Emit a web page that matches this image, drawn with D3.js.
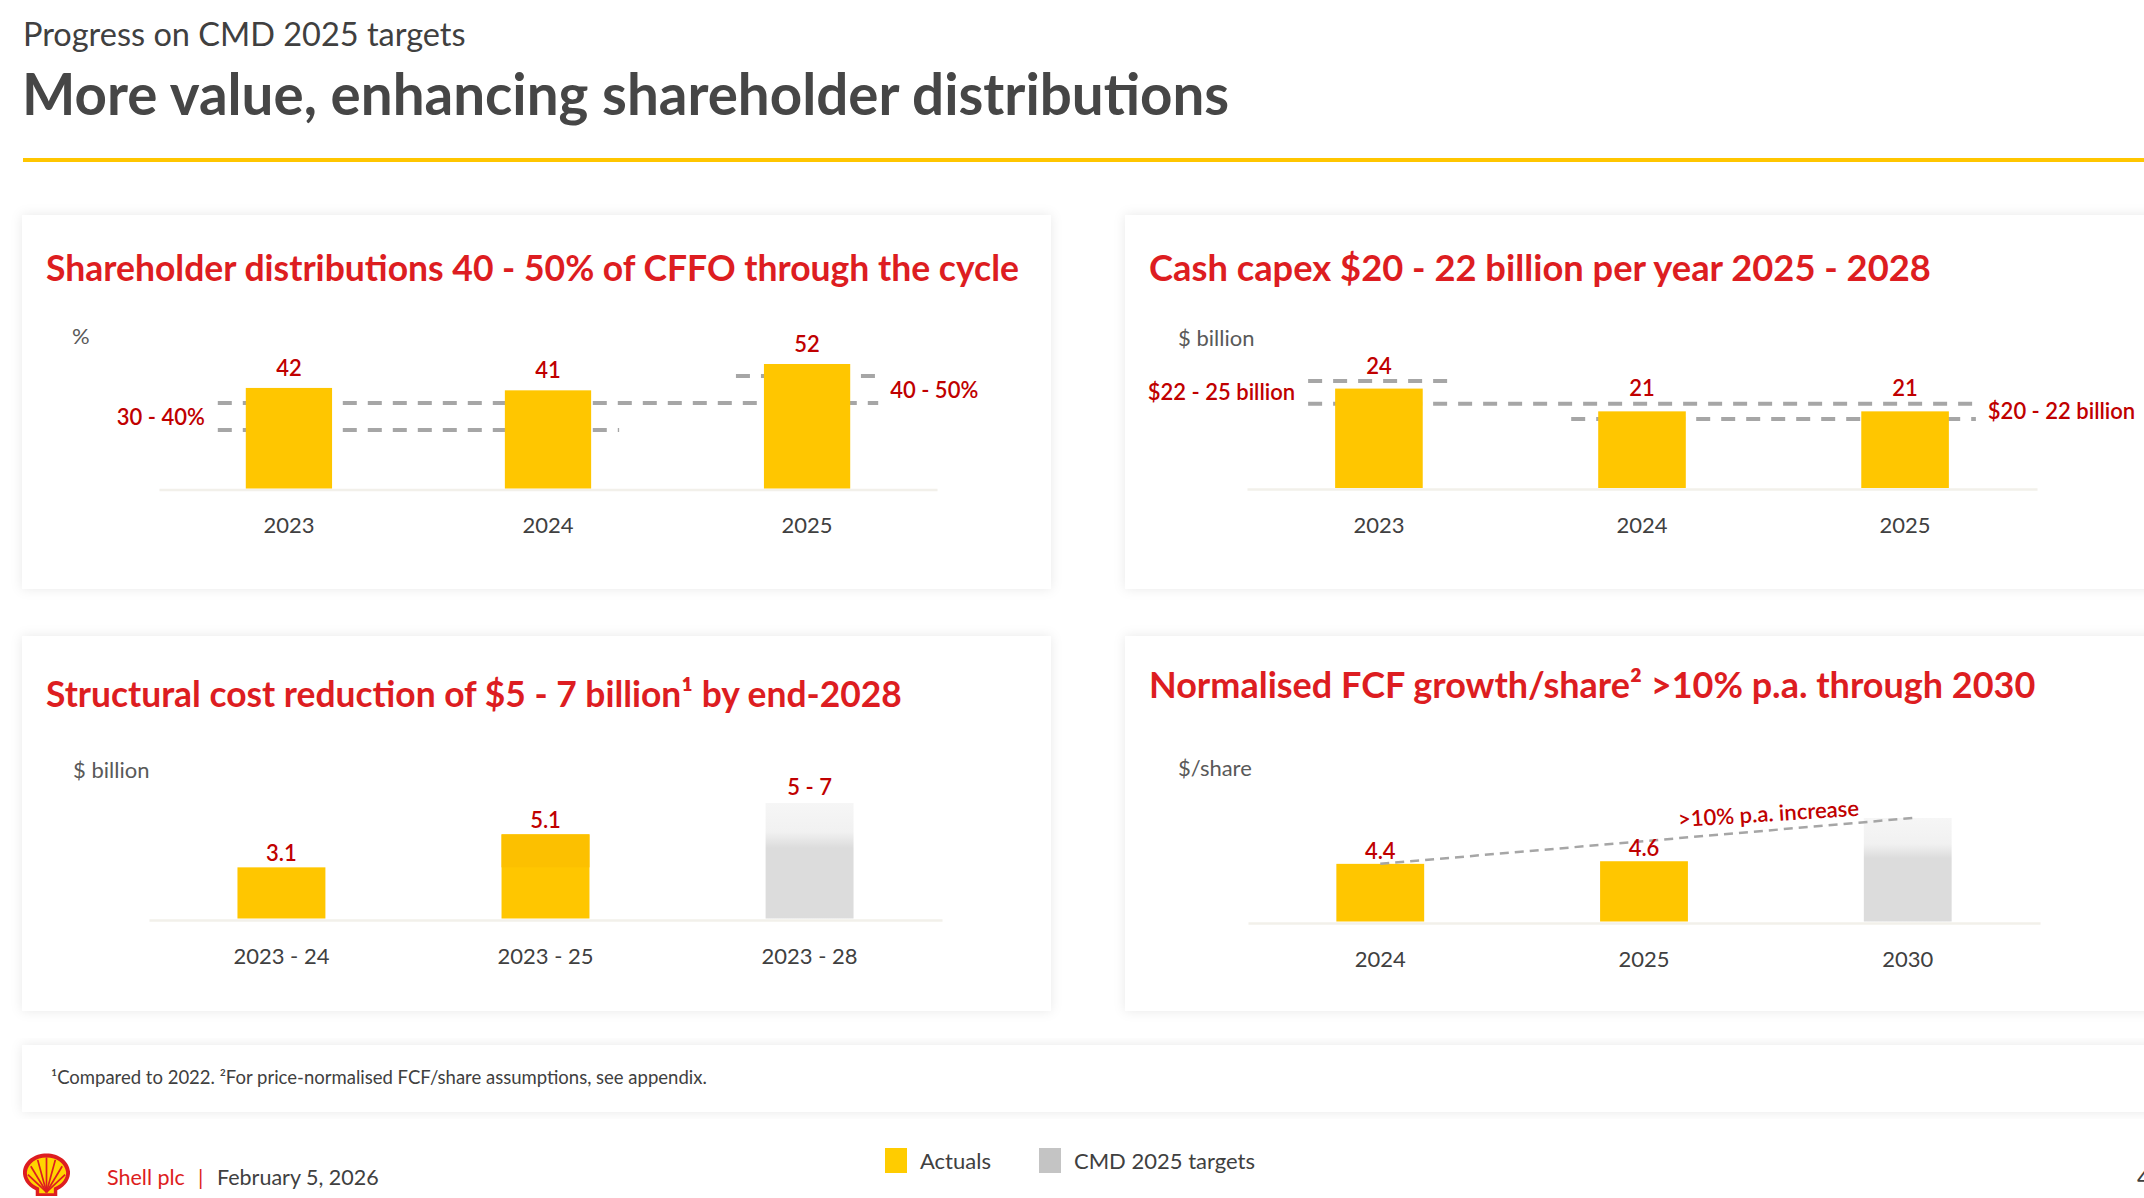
<!DOCTYPE html>
<html lang="en">
<head>
<meta charset="utf-8">
<title>Progress on CMD 2025 targets</title>
<script src="https://d3js.org/d3.v7.min.js"></script>
<style>
  body { margin: 0; background: #fff; }
  svg { display: block; font-family: Lato, "Open Sans", sans-serif; }
</style>
</head>
<body>
<script>
// chart values
var distYears = ["2023", "2024", "2025"];
var distValues = [42, 41, 52];
var distLines = [{v: 30, from: "2023", to: "2024"}, {v: 40, from: "2023", to: "2025"}, {v: 50, from: "2025", to: "2025"}];
var distRanges = [{text: "30 - 40%", lo: 30, hi: 40, at: "2023", side: "left"}, {text: "40 - 50%", lo: 40, hi: 50, at: "2025", side: "right"}];

var capexYears = ["2023", "2024", "2025"];
var capexValues = [24, 21, 21];
var capexLines = [{v: 25, from: "2023", to: "2023"}, {v: 22, from: "2023", to: "2025"}, {v: 20, from: "2024", to: "2025"}];
var capexRanges = [{text: "$22 - 25 billion", lo: 22, hi: 25, at: "2023", side: "left"}, {text: "$20 - 22 billion", lo: 20, hi: 22, at: "2025", side: "right"}];

var costPeriods = ["2023 - 24", "2023 - 25", "2023 - 28"];
var costValues = [3.1, 5.1];
var costTarget = {lo: 5, hi: 7, label: "5 - 7"};

var fcfYears = ["2024", "2025", "2030"];
var fcfValues = [4.4, 4.6];
var fcfTarget = 7.9;
var fcfTrendLabel = ">10% p.a. increase";

var legendLabels = ["Actuals", "CMD 2025 targets"];
var legendColors = ["#FFCC00", "#C4C4C4"];

var W = 2144, H = 1198;
var yellow = "#FFC600", yellowTop = "#FCC000", red = "#DD1D21", darkRed = "#C00000";
var textGrey = "#404040", unitGrey = "#595959", dashGrey = "#A6A6A6", axisGrey = "#F2F0EA";

var svg = d3.select("body").append("svg")
  .attr("width", W)
  .attr("height", H);

var defs = svg.append("defs");
var shadow = defs.append("filter").attr("id", "shadow")
  .attr("x", "-5%").attr("y", "-10%").attr("width", "110%").attr("height", "120%");
shadow.append("feDropShadow")
  .attr("dx", 0).attr("dy", 0).attr("stdDeviation", 6)
  .attr("flood-color", "#000").attr("flood-opacity", 0.09);

var fade = defs.append("linearGradient").attr("id", "targetFade")
  .attr("x1", 0).attr("y1", 0).attr("x2", 0).attr("y2", 1);
[[0, "#F6F6F6"], [0.25, "#F1F1F1"], [0.39, "#DCDCDC"], [1, "#DCDCDC"]].forEach(function (s) {
  fade.append("stop").attr("offset", s[0]).attr("stop-color", s[1]);
});

// header
svg.append("text")
  .attr("x", 23).attr("y", 46)
  .attr("font-size", 32.5).attr("fill", textGrey)
  .text("Progress on CMD 2025 targets");

svg.append("text")
  .attr("x", 22).attr("y", 115)
  .attr("font-size", 56.5).attr("font-weight", 700).attr("fill", "#464646")
  .text("More value, enhancing shareholder distributions");

svg.append("rect")
  .attr("x", 23).attr("y", 158).attr("width", W - 23).attr("height", 4)
  .attr("fill", yellow);

// white cards with soft shadow
var cards = [[22, 215, 1029, 374], [1125, 215, 1040, 374], [22, 636, 1029, 375], [1125, 636, 1040, 375], [22, 1045, 2140, 67]];
svg.selectAll("rect.card")
  .data(cards)
  .enter()
  .append("rect")
  .attr("class", "card")
  .attr("x", function (d) { return d[0]; })
  .attr("y", function (d) { return d[1]; })
  .attr("width", function (d) { return d[2]; })
  .attr("height", function (d) { return d[3]; })
  .attr("fill", "#fff")
  .attr("filter", "url(#shadow)");

function band(domain, r0, r1) {
  return d3.scaleBand().domain(domain).range([r0, r1]).paddingInner(0.667).paddingOuter(0.335);
}

function panelTitle(x, y, txt, size) {
  svg.append("text")
    .attr("x", x).attr("y", y)
    .attr("font-size", size).attr("font-weight", 700).attr("fill", red)
    .text(txt);
}

function unitLabel(x, y, txt) {
  svg.append("text")
    .attr("x", x).attr("y", y)
    .attr("font-size", 22).attr("fill", unitGrey)
    .text(txt);
}

function bottomAxis(x, yPos) {
  var g = svg.append("g")
    .attr("transform", "translate(0," + yPos + ")")
    .call(d3.axisBottom(x).tickSize(0).tickSizeOuter(0).tickPadding(28));
  g.select(".domain").attr("stroke", axisGrey).attr("stroke-width", 2.5);
  g.selectAll("text")
    .attr("font-family", "Lato, 'Open Sans', sans-serif")
    .attr("font-size", 22).attr("fill", textGrey);
  return g;
}

function valueLabel(x, y, txt) {
  svg.append("text")
    .attr("x", x).attr("y", y)
    .attr("text-anchor", "middle")
    .attr("font-size", 22).attr("font-weight", 600).attr("fill", darkRed)
    .text(txt);
}

function targetLines(x, y, lines, ranges, ext) {
  svg.selectAll(null)
    .data(lines)
    .enter()
    .append("line")
    .attr("x1", function (d) { return x(d.from) - ext; })
    .attr("x2", function (d) { return x(d.to) + x.bandwidth() + ext; })
    .attr("y1", function (d) { return y(d.v); })
    .attr("y2", function (d) { return y(d.v); })
    .attr("stroke", dashGrey).attr("stroke-width", 4)
    .attr("stroke-dasharray", "14, 11");

  svg.selectAll(null)
    .data(ranges)
    .enter()
    .append("text")
    .attr("x", function (d) {
      return d.side == "left" ? x(d.at) - ext - 13 : x(d.at) + x.bandwidth() + ext + 12;
    })
    .attr("y", function (d) { return (y(d.lo) + y(d.hi)) / 2 + 8; })
    .attr("text-anchor", function (d) { return d.side == "left" ? "end" : "start"; })
    .attr("font-size", 22).attr("font-weight", 600).attr("fill", darkRed)
    .text(function (d) { return d.text; });
}

function bars(x, y, values, cats, base) {
  svg.selectAll(null)
    .data(values)
    .enter()
    .append("rect")
    .attr("x", function (d, i) { return x(cats[i]); })
    .attr("y", function (d) { return y(d); })
    .attr("width", x.bandwidth())
    .attr("height", function (d) { return base - y(d); })
    .attr("fill", yellow);
}

// panel 1: shareholder distributions
panelTitle(46, 281, "Shareholder distributions 40 - 50% of CFFO through the cycle", 35.5);
unitLabel(72, 344, "%");
var x1 = band(distYears, 159, 937);
var y1 = d3.scaleLinear().domain([0, 52]).range([488.5, 364]);
var t1 = d3.scaleLinear().domain([30, 50]).range([430, 376]); //target band drawn on its own scale
bottomAxis(x1, 489.5);
targetLines(x1, t1, distLines, distRanges, 28);
bars(x1, y1, distValues, distYears, y1(0));
distValues.forEach(function (v, i) {
  valueLabel(x1(distYears[i]) + x1.bandwidth() / 2, y1(v) - 12, v);
});

// panel 2: cash capex
panelTitle(1149, 281, "Cash capex $20 - 22 billion per year 2025 - 2028", 36.3);
unitLabel(1178, 346, "$ billion");
var x2 = band(capexYears, 1247, 2037);
var y2 = d3.scaleLinear().domain([10.9, 25]).range([488, 381]);
bottomAxis(x2, 489);
targetLines(x2, y2, capexLines, capexRanges, 27);
bars(x2, y2, capexValues, capexYears, y2(10.9));
capexValues.forEach(function (v, i) {
  valueLabel(x2(capexYears[i]) + x2.bandwidth() / 2, y2(v) - 15, v);
});

// panel 3: structural cost reduction
panelTitle(46, 707, "Structural cost reduction of $5 - 7 billion¹ by end-2028", 35.4);
unitLabel(73, 778, "$ billion");
var x3 = band(costPeriods, 149, 942);
var y3 = d3.scaleLinear().domain([0, 7]).range([918.5, 803]);
bottomAxis(x3, 920);
bars(x3, y3, costValues, costPeriods, y3(0));
// the 2023-25 bar: extra reduction on top of the 2023-24 level
svg.append("rect")
  .attr("x", x3(costPeriods[1]))
  .attr("y", y3(costValues[1]))
  .attr("width", x3.bandwidth())
  .attr("height", y3(costValues[0]) - y3(costValues[1]))
  .attr("fill", yellowTop);
svg.append("rect")
  .attr("x", x3(costPeriods[2]))
  .attr("y", y3(costTarget.hi))
  .attr("width", x3.bandwidth())
  .attr("height", y3(0) - y3(costTarget.hi))
  .attr("fill", "url(#targetFade)");
costValues.forEach(function (v, i) {
  valueLabel(x3(costPeriods[i]) + x3.bandwidth() / 2, y3(v) - 6, v);
});
valueLabel(x3(costPeriods[2]) + x3.bandwidth() / 2, y3(costTarget.hi) - 8, costTarget.label);

// panel 4: normalised FCF per share
panelTitle(1149, 698, "Normalised FCF growth/share² >10% p.a. through 2030", 36);
unitLabel(1178, 776, "$/share");
var x4 = band(fcfYears, 1248, 2040);
var y4 = d3.scaleLinear().domain([0, 7.9]).range([921.5, 818]);
bottomAxis(x4, 923);
bars(x4, y4, fcfValues, fcfYears, y4(0));
svg.append("rect")
  .attr("x", x4(fcfYears[2]))
  .attr("y", y4(fcfTarget))
  .attr("width", x4.bandwidth())
  .attr("height", y4(0) - y4(fcfTarget))
  .attr("fill", "url(#targetFade)");

var cx = function (c) { return x4(c) + x4.bandwidth() / 2; };
var trend = [[cx(fcfYears[0]), y4(fcfValues[0])], [cx(fcfYears[2]) + 5, y4(fcfTarget)]];
svg.append("line")
  .attr("x1", trend[0][0]).attr("y1", trend[0][1])
  .attr("x2", trend[1][0]).attr("y2", trend[1][1])
  .attr("stroke", dashGrey).attr("stroke-width", 2.5)
  .attr("stroke-dasharray", "9, 6");

fcfValues.forEach(function (v, i) {
  valueLabel(cx(fcfYears[i]), y4(v) - 5, v);
});

var tPos = d3.interpolateArray(trend[0], trend[1])(0.73);
svg.append("text")
  .attr("transform", "translate(" + tPos[0] + "," + (tPos[1] - 9) + ")rotate(-3.6)")
  .attr("text-anchor", "middle")
  .attr("font-size", 22).attr("font-weight", 600).attr("fill", darkRed)
  .text(fcfTrendLabel);

// footnote
svg.append("text")
  .attr("x", 51).attr("y", 1084)
  .attr("font-size", 18.5).attr("fill", textGrey)
  .text("¹Compared to 2022. ²For price-normalised FCF/share assumptions, see appendix.");

// footer: pecten, company and date
var logo = svg.append("g").attr("transform", "translate(22,1153) scale(0.49)");
logo.append("path")
  .attr("d", "M28,88 L28,76 C10,68 1,52 2,38 C4,16 25,1 50,1 C75,1 96,16 98,38 C99,52 90,68 72,76 L72,88 Z")
  .attr("fill", red);
logo.append("path")
  .attr("d", "M35,82 L35,71 C18,64 9,52 10,39 C12,21 29,9 50,9 C71,9 88,21 90,39 C91,52 82,64 65,71 L65,82 Z")
  .attr("fill", "#FFD500");
[[12, 44], [18, 27], [32, 14], [50, 9], [68, 14], [82, 27], [88, 44]].forEach(function (p) {
  logo.append("line")
    .attr("x1", 50).attr("y1", 80).attr("x2", p[0]).attr("y2", p[1])
    .attr("stroke", red).attr("stroke-width", 3.5);
});

svg.append("text")
  .attr("x", 107).attr("y", 1185)
  .attr("font-size", 21.5).attr("fill", red)
  .text("Shell plc");
svg.append("text")
  .attr("x", 198).attr("y", 1185)
  .attr("font-size", 21.5).attr("fill", red)
  .text("|");
svg.append("text")
  .attr("x", 217).attr("y", 1185)
  .attr("font-size", 21.5).attr("fill", textGrey)
  .text("February 5, 2026");

// legend
var lx = d3.scaleOrdinal().domain(legendLabels).range([885, 1039]);
var legend = svg.selectAll("g.legend")
  .data(legendLabels)
  .enter()
  .append("g")
  .attr("class", "legend")
  .attr("transform", function (d) { return "translate(" + lx(d) + ",1148)"; });
legend.append("rect")
  .attr("width", 22).attr("height", 25)
  .attr("fill", function (d, i) { return legendColors[i]; });
legend.append("text")
  .attr("x", 35).attr("y", 21)
  .attr("font-size", 22).attr("fill", textGrey)
  .text(function (d) { return d; });

// page number, cut by the slide edge
svg.append("text")
  .attr("x", 2137).attr("y", 1186)
  .attr("font-size", 24).attr("fill", textGrey)
  .text("4");
</script>
</body>
</html>
